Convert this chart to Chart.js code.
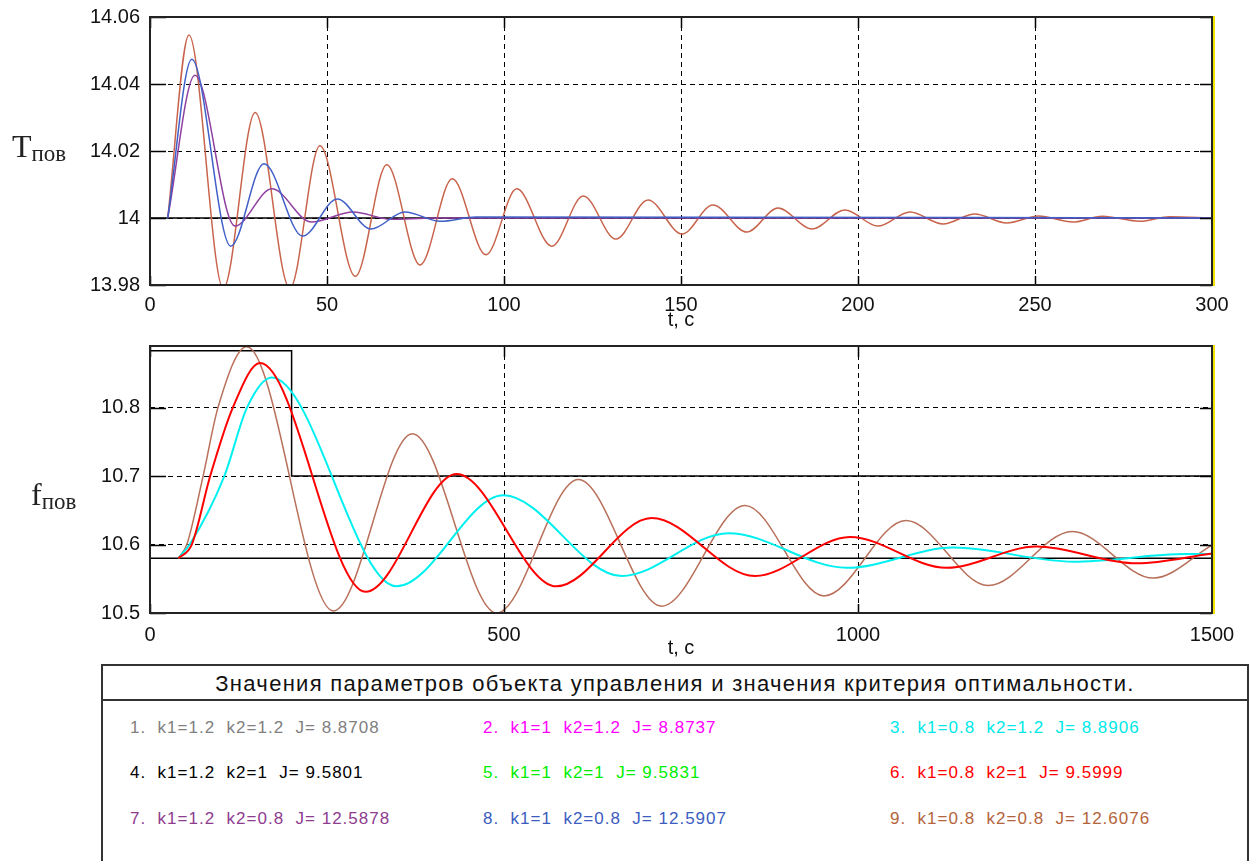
<!DOCTYPE html>
<html>
<head>
<meta charset="utf-8">
<title>Tпов и fпов</title>
<script src="https://cdn.jsdelivr.net/npm/chart.js@4/dist/chart.umd.min.js"></script>
<style>
  body { margin:0; background:#fff; width:1250px; height:861px; overflow:hidden; position:relative; font-family:"Liberation Sans", Arial, sans-serif; }
  canvas { position:absolute; left:0; }
  #topChart { top:0; }
  #botChart { top:332px; }
  .ylab { position:absolute; font-family:"Liberation Serif", serif; color:#222; white-space:nowrap; line-height:1; }
  .ylab .big { font-size:32px; }
  .ylab .sub { font-size:23px; position:relative; top:4px; }
  #legendBox { position:absolute; left:101px; top:664px; width:1148px; height:220px; border:2px solid #333; box-sizing:border-box; }
  #legendHead { height:33px; line-height:36px; border-bottom:2px solid #333; text-align:center; font-size:22px; letter-spacing:1.3px; color:#111; }
  .item { position:absolute; font-size:17px; letter-spacing:1px; white-space:pre; }
</style>
</head>
<body>
<canvas id="topChart" width="1250" height="332"></canvas>
<canvas id="botChart" width="1250" height="328"></canvas>
<div class="ylab" style="left:12px; top:130px;"><span class="big">T</span><span class="sub">пов</span></div>
<div class="ylab" style="left:31px; top:478px;"><span class="big">f</span><span class="sub">пов</span></div>
<div id="legendBox"><div id="legendHead">Значения параметров объекта управления и значения критерия оптимальности.</div></div>

<script>
// ---- top plot: Tпов (t = 0..300 c)
const topXTicks = [0, 50, 100, 150, 200, 250, 300];
const topYTicks = [13.98, 14, 14.02, 14.04, 14.06];

const tBlue = [5, 11.8, 22.8, 32.2, 43.1, 52.9, 62.4, 72, 82, 92, 300];
const vBlue = [14, 14.0474, 13.9916, 14.0162, 13.9946, 14.0057, 13.9967, 14.0018, 13.999, 14.0003, 14];

const tPurple = [5, 12.7, 24, 34.4, 45.6, 57.4, 68, 80, 300];
const vPurple = [14, 14.0426, 13.9976, 14.0087, 13.9988, 14.0018, 13.9996, 14, 14];

const tBrownTop = [5, 11, 20.7, 29.7, 39.5, 48, 58, 66.9, 76.3, 85.4, 94.9, 103.6, 113.5, 122.4, 131.6,
  140.7, 150.3, 159, 168.6, 177.4, 187, 196.3, 205.6, 214.7, 224, 233, 242, 251, 260.7, 269, 279.7, 288, 300];
const vBrownTop = [14, 14.0546, 13.979, 14.0315, 13.979, 14.0216, 13.9826, 14.0159, 13.986, 14.0117, 13.989,
  14.0087, 13.9916, 14.0066, 13.9937, 14.0054, 13.9952, 14.0039, 13.9958, 14.003, 13.9967, 14.0024, 13.9976,
  14.0018, 13.9982, 14.0012, 13.9985, 14.0006, 13.9988, 14.0005, 13.999, 14.0004, 14];

const tRefTop = [0, 300];
const vRefTop = [14, 14];

// ---- bottom plot: fпов (t = 0..1500 c)
const botXTicks = [0, 500, 1000, 1500];
const botYTicks = [10.5, 10.6, 10.7, 10.8];

const tRed = [40, 59, 85, 117, 155.4, 304.6, 433, 574, 708.6, 854.5, 988.7, 1125, 1252, 1393.6, 1500];
const vRed = [10.58, 10.6, 10.7, 10.8, 10.865, 10.531, 10.703, 10.539, 10.6386, 10.554, 10.611, 10.566, 10.597, 10.5725, 10.587];

const tCyan = [40, 56, 105, 137, 171.8, 348.4, 499, 666, 816.8, 984, 1134.6, 1304, 1464, 1500];
const vCyan = [10.58, 10.6, 10.7, 10.8, 10.844, 10.539, 10.672, 10.554, 10.6166, 10.566, 10.5955, 10.575, 10.586, 10.586];

const tBrownBot = [40, 52, 75, 96, 136.6, 259, 370.5, 489.7, 605, 722.7, 840.4, 952, 1067.8, 1184, 1302.7, 1417, 1500];
const vBrownBot = [10.58, 10.6, 10.7, 10.8, 10.889, 10.503, 10.762, 10.5, 10.695, 10.51, 10.657, 10.525, 10.635, 10.54, 10.619, 10.551, 10.599];

const tLimit = [0, 200, 200, 1500];
const vLimit = [10.883, 10.883, 10.7, 10.7];
const tRefBot = [0, 1500];
const vRefBot = [10.58, 10.58];

// ---- legend table
const legendText = [
  '1.  k1=1.2  k2=1.2  J= 8.8708', '2.  k1=1  k2=1.2  J= 8.8737', '3.  k1=0.8  k2=1.2  J= 8.8906',
  '4.  k1=1.2  k2=1  J= 9.5801', '5.  k1=1  k2=1  J= 9.5831', '6.  k1=0.8  k2=1  J= 9.5999',
  '7.  k1=1.2  k2=0.8  J= 12.5878', '8.  k1=1  k2=0.8  J= 12.5907', '9.  k1=0.8  k2=0.8  J= 12.6076'
];
const legendColors = ['#808080', '#ff00ff', '#00e8e8', '#000000', '#00ee00', '#ff0000', '#8e3c8e', '#3c5cc0', '#b4643c'];

const box = document.getElementById('legendBox');
legendText.forEach((txt, i) => {
  const s = document.createElement('span');
  s.className = 'item';
  s.textContent = txt;
  s.style.color = legendColors[i];
  s.style.left = [27, 380, 787][i % 3] + 'px';
  s.style.top = [52, 97, 143][Math.floor(i / 3)] + 'px';
  box.appendChild(s);
});

function pts(ts, vs) { return ts.map((t, i) => ({ x: t, y: vs[i] })); }

function curve(ts, vs, color, w) {
  return { data: pts(ts, vs), borderColor: color, borderWidth: w, pointRadius: 0, cubicInterpolationMode: 'monotone', fill: false };
}
function straight(ts, vs) {
  return { data: pts(ts, vs), borderColor: '#000', borderWidth: 1.5, pointRadius: 0, tension: 0, fill: false };
}

// frame, inner tick marks and the yellow right edge
const frame = {
  id: 'frame',
  afterDatasetsDraw(chart) {
    const { ctx, chartArea: a, scales: { x, y } } = chart;
    ctx.save();
    ctx.strokeStyle = '#000';
    ctx.lineWidth = 1.5;
    ctx.beginPath();
    x.ticks.forEach(t => {
      const px = Math.round(x.getPixelForValue(t.value)) + 0.5;
      ctx.moveTo(px, a.bottom); ctx.lineTo(px, a.bottom - 9);
      ctx.moveTo(px, a.top); ctx.lineTo(px, a.top + 11);
    });
    y.ticks.forEach(t => {
      const py = Math.round(y.getPixelForValue(t.value)) + 0.5;
      ctx.moveTo(a.left, py); ctx.lineTo(a.left + 16, py);
      ctx.moveTo(a.right, py); ctx.lineTo(a.right - 12, py);
    });
    ctx.stroke();
    ctx.lineWidth = 2;
    ctx.strokeStyle = '#222';
    ctx.strokeRect(a.left, a.top, a.width, a.height);
    ctx.strokeStyle = '#f2e400';
    ctx.beginPath();
    ctx.moveTo(a.right + 2, a.top - 1); ctx.lineTo(a.right + 2, a.bottom + 1);
    ctx.stroke();
    ctx.restore();
  }
};

Chart.defaults.font.family = '"Liberation Sans", Arial, sans-serif';
Chart.defaults.font.size = 20;
Chart.defaults.color = '#111';

function makeOptions(xTicks, yTicks, xMin, xMax, yMin, yMax, padTop, tickPad) {
  return {
    responsive: false,
    animation: false,
    events: [],
    layout: { padding: { left: 80, right: 38, top: padTop, bottom: 0 } },
    plugins: { legend: { display: false }, tooltip: { enabled: false } },
    scales: {
      x: {
        type: 'linear', min: xMin, max: xMax,
        afterBuildTicks: s => { s.ticks = xTicks.map(v => ({ value: v })); },
        afterFit: s => { s.height = 47; s.paddingLeft = 0; s.paddingRight = 0; },
        ticks: { padding: tickPad, maxRotation: 0, callback: v => String(v) },
        grid: { color: '#000', lineWidth: 1, drawTicks: false },
        border: { display: false, dash: [5, 4] },
        title: { display: true, text: 't, c', padding: { top: 0, bottom: 0 } }
      },
      y: {
        type: 'linear', min: yMin, max: yMax,
        afterBuildTicks: s => { s.ticks = yTicks.map(v => ({ value: v })); },
        afterFit: s => { s.width = 70; s.paddingTop = 0; s.paddingBottom = 0; },
        ticks: { padding: 10, callback: v => String(+v.toFixed(4)) },
        grid: { color: '#000', lineWidth: 1, drawTicks: false },
        border: { display: false, dash: [5, 4] }
      }
    }
  };
}

new Chart(document.getElementById('topChart'), {
  type: 'line',
  data: {
    datasets: [
      curve(tBlue, vBlue, '#4060c8', 1.5),
      curve(tPurple, vPurple, '#9040a0', 1.5),
      curve(tBrownTop, vBrownTop, '#c8644c', 1.5),
      straight(tRefTop, vRefTop)
    ]
  },
  options: makeOptions(topXTicks, topYTicks, 0, 300, 13.98, 14.06, 17, 8),
  plugins: [frame]
});

new Chart(document.getElementById('botChart'), {
  type: 'line',
  data: {
    datasets: [
      curve(tRed, vRed, '#ff0000', 2),
      curve(tCyan, vCyan, '#00f0f0', 2),
      curve(tBrownBot, vBrownBot, '#b8705a', 1.5),
      straight(tLimit, vLimit),
      straight(tRefBot, vRefBot)
    ]
  },
  options: makeOptions(botXTicks, botYTicks, 0, 1500, 10.5, 10.89, 14, 10),
  plugins: [frame]
});
</script>
</body>
</html>
